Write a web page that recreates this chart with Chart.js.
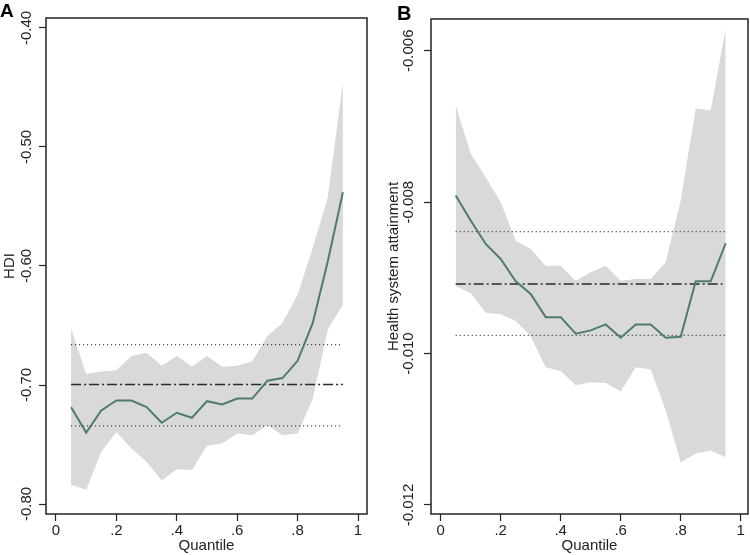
<!DOCTYPE html>
<html>
<head>
<meta charset="utf-8">
<script src="https://cdn.jsdelivr.net/npm/chart.js@4.4.1/dist/chart.umd.min.js"></script>
<style>
  html, body { margin: 0; padding: 0; background: #fff; }
  body { width: 750px; height: 555px; position: relative; overflow: hidden; }
  .panel { position: absolute; top: 0; width: 375px; height: 555px; }
  #panelA { left: 0; }
  #panelB { left: 375px; }
  .tag { position: absolute; font-family: "Liberation Sans", Arial, sans-serif; font-weight: bold; color: #000; }
  #tagA { left: 0px; top: 0px; font-size: 19px; }
  #tagB { left: 397px; top: 2px; font-size: 20px; }
</style>
</head>
<body>
<div class="panel" id="panelA"><canvas id="chartA" width="375" height="555"></canvas></div>
<div class="panel" id="panelB"><canvas id="chartB" width="375" height="555"></canvas></div>
<div class="tag" id="tagA">A</div>
<div class="tag" id="tagB">B</div>

<script>
// Quantiles used in both panels
const quantiles = [0.05, 0.10, 0.15, 0.20, 0.25, 0.30, 0.35, 0.40, 0.45, 0.50,
                   0.55, 0.60, 0.65, 0.70, 0.75, 0.80, 0.85, 0.90, 0.95];
const xTicks = [0, 0.2, 0.4, 0.6, 0.8, 1];
const xTickLabels = ['0', '.2', '.4', '.6', '.8', '1'];

// Panel A: HDI
const coefA = [-0.7186, -0.7400, -0.7214, -0.7130, -0.7130, -0.7186, -0.7317, -0.7233, -0.7275, -0.7136,
               -0.7164, -0.7114, -0.7114, -0.6964, -0.6942, -0.6797, -0.6480, -0.5960, -0.5380];
const upperA = [-0.6525, -0.6908, -0.6886, -0.6875, -0.6756, -0.6728, -0.6839, -0.6756, -0.6844, -0.6756,
                -0.6847, -0.6839, -0.6800, -0.6589, -0.6478, -0.6240, -0.5850, -0.5420, -0.4460];
const lowerA = [-0.7839, -0.7880, -0.7560, -0.7394, -0.7533, -0.7644, -0.7803, -0.7708, -0.7714, -0.7511,
                -0.7492, -0.7408, -0.7422, -0.7339, -0.7422, -0.7408, -0.7117, -0.6533, -0.6325];
const olsA = -0.6995;
const olsCiA = [-0.6661, -0.7344];
const yTicksA = [-0.80, -0.70, -0.60, -0.50, -0.40];

// Panel B: Health system attainment
const coefB = [-0.007912, -0.008243, -0.008552, -0.008750, -0.009046, -0.009212, -0.009519, -0.009519, -0.009737, -0.009694,
               -0.009615, -0.009790, -0.009615, -0.009615, -0.009790, -0.009777, -0.009046, -0.009046, -0.008543];
const upperB = [-0.006720, -0.007360, -0.007670, -0.008000, -0.008510, -0.008620, -0.008840, -0.008840, -0.009037, -0.008927,
                -0.008840, -0.009037, -0.009015, -0.009015, -0.008795, -0.007978, -0.006764, -0.006786, -0.005704];
const lowerB = [-0.009112, -0.009200, -0.009460, -0.009480, -0.009570, -0.009770, -0.010180, -0.010230, -0.010420, -0.010380,
                -0.010390, -0.010500, -0.010180, -0.010210, -0.010750, -0.011440, -0.011320, -0.011280, -0.011370];
const olsB = -0.009081;
const olsCiB = [-0.008389, -0.009759];
const yTicksB = [-0.012, -0.010, -0.008, -0.006];

const FONT = '"Liberation Sans", Arial, sans-serif';
const FONT_SIZE = 15;
const TEXT = '#222';
const BAND = '#d9d9d9';
const LINE_GREEN = '#4e7d6c';

/**
 * Draws the frame around the plot area and the vertical y tick labels
 */
const framePlugin = {
  id: 'frame',
  afterDraw(chart, args, opts) {
    const { ctx, chartArea } = chart;
    const yScale = chart.scales.y;
    ctx.save();
    ctx.strokeStyle = '#222';
    ctx.lineWidth = 1.5;
    ctx.strokeRect(chartArea.left, chartArea.top, chartArea.right - chartArea.left, chartArea.bottom - chartArea.top);

    // y tick labels, rotated to read bottom-to-top
    ctx.fillStyle = TEXT;
    ctx.font = FONT_SIZE + 'px ' + FONT;
    ctx.textAlign = 'center';
    ctx.textBaseline = 'middle';
    yScale.ticks.forEach((t) => {
      const y = yScale.getPixelForValue(t.value);
      ctx.save();
      ctx.translate(chartArea.left - opts.labelOffset, y);
      ctx.rotate(-Math.PI / 2);
      ctx.fillText(t.value.toFixed(opts.decimals), 0, 0);
      ctx.restore();
    });
    ctx.restore();
  }
};

function toPoints(values) {
  return quantiles.map((q, i) => ({ x: q, y: values[i] }));
}

function flatLine(value) {
  return [{ x: quantiles[0], y: value }, { x: quantiles[quantiles.length - 1], y: value }];
}

/**
 * Build one quantile regression panel
 */
function makePanel(canvasId, p) {
  const ctx = document.getElementById(canvasId).getContext('2d');
  return new Chart(ctx, {
    type: 'line',
    data: {
      datasets: [
        { data: toPoints(p.coef), borderColor: LINE_GREEN, borderWidth: 2, pointRadius: 0, fill: false, tension: 0 },
        { data: flatLine(p.ols), borderColor: '#2a2a2a', borderWidth: 1.5, borderDash: [10, 3, 2, 3], pointRadius: 0, fill: false },
        { data: flatLine(p.olsCi[0]), borderColor: '#333', borderWidth: 1.2, borderDash: [1, 3], pointRadius: 0, fill: false },
        { data: flatLine(p.olsCi[1]), borderColor: '#333', borderWidth: 1.2, borderDash: [1, 3], pointRadius: 0, fill: false },
        { data: toPoints(p.upper), borderWidth: 0, borderColor: BAND, backgroundColor: BAND, pointRadius: 0, fill: '+1', tension: 0 },
        { data: toPoints(p.lower), borderWidth: 0, borderColor: BAND, backgroundColor: BAND, pointRadius: 0, fill: false, tension: 0 }
      ]
    },
    options: {
      responsive: false,
      animation: false,
      layout: { padding: p.padding },
      plugins: {
        legend: { display: false },
        tooltip: { enabled: false },
        frame: { labelOffset: p.labelOffset, decimals: p.decimals }
      },
      scales: {
        x: {
          type: 'linear',
          min: p.xMin,
          max: p.xMax,
          afterFit: (scale) => { scale.height = 41; },
          afterBuildTicks: (scale) => { scale.ticks = xTicks.map((v) => ({ value: v })); },
          grid: { display: true, drawOnChartArea: false, drawTicks: true, tickLength: 7, tickColor: '#222', tickWidth: 1.2 },
          border: { display: false },
          ticks: {
            color: TEXT,
            font: { family: FONT, size: FONT_SIZE },
            padding: 1,
            maxRotation: 0,
            callback: (value) => xTickLabels[xTicks.indexOf(value)]
          },
          title: { display: true, text: 'Quantile', color: TEXT, font: { family: FONT, size: FONT_SIZE }, padding: { top: 0, bottom: 0 } }
        },
        y: {
          type: 'linear',
          min: p.yMin,
          max: p.yMax,
          afterFit: (scale) => { scale.width = p.yWidth; },
          afterBuildTicks: (scale) => { scale.ticks = p.yTicks.map((v) => ({ value: v })); },
          grid: { display: true, drawOnChartArea: false, drawTicks: true, tickLength: 7, tickColor: '#222', tickWidth: 1.2 },
          border: { display: false },
          ticks: { display: false },
          title: { display: true, text: p.yTitle, color: TEXT, font: { family: FONT, size: FONT_SIZE }, padding: { top: 1, bottom: 0 } }
        }
      }
    },
    plugins: [framePlugin]
  });
}

makePanel('chartA', {
  coef: coefA, upper: upperA, lower: lowerA, ols: olsA, olsCi: olsCiA,
  yTicks: yTicksA, yTitle: 'HDI', decimals: 2,
  xMin: -0.0331, xMax: 1.0298, yMin: -0.8084, yMax: -0.3916,
  padding: { left: 0, top: 18, right: 8, bottom: 0 },
  yWidth: 46, labelOffset: 19
});

makePanel('chartB', {
  coef: coefB, upper: upperB, lower: lowerB, ols: olsB, olsCi: olsCiB,
  yTicks: yTicksB, yTitle: 'Health system attainment', decimals: 3,
  xMin: -0.0323, xMax: 1.0243, yMin: -0.012119, yMax: -0.005581,
  padding: { left: 9, top: 19, right: 2, bottom: 0 },
  yWidth: 47, labelOffset: 22
});
</script>
</body>
</html>
